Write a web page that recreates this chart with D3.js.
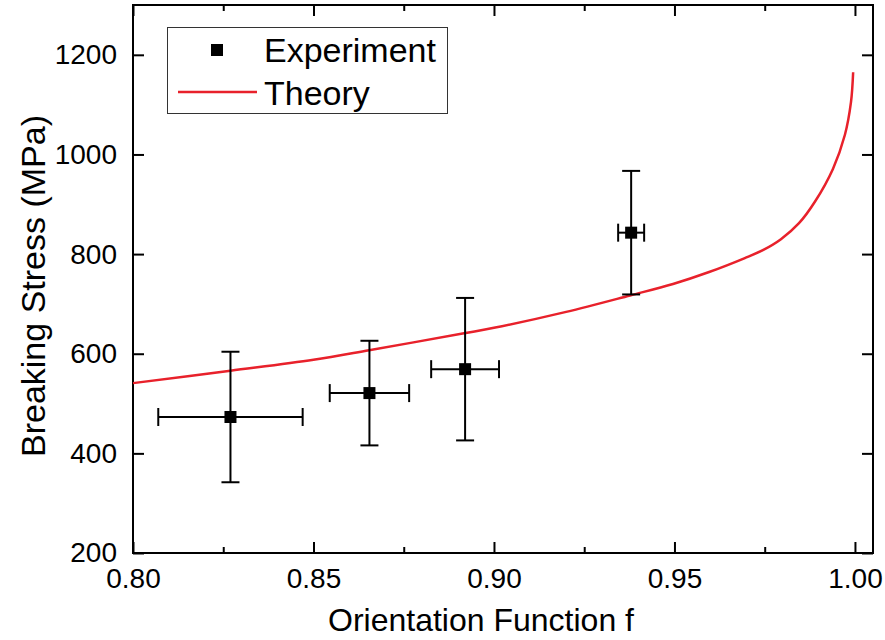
<!DOCTYPE html>
<html>
<head>
<meta charset="utf-8">
<script src="https://cdn.jsdelivr.net/npm/d3@7"></script>
<style>
  body { margin: 0; background: #fff; }
  svg { font-family: "Liberation Sans", Arial, sans-serif; }
  .axis path { display: none; }
  .axis line { stroke: #000; stroke-width: 2; }
  .axis text { font-size: 28px; fill: #000; }
</style>
</head>
<body>
<script>
// experiment points (orientation function f, breaking stress MPa)
var expF = [0.827, 0.8655, 0.892, 0.938];
var expStress = [473, 521, 569, 843];
var expFErr = [0.020, 0.011, 0.0094, 0.0036];
var expStressErr = [131, 105, 143, 124];

// theory curve
var theoryF = [0.80, 0.827, 0.85, 0.8654, 0.8917, 0.90, 0.92, 0.9377, 0.9496, 0.9596, 0.9695, 0.9745, 0.9795, 0.9845, 0.9889, 0.9939, 0.9972, 0.9989, 0.9995];
var theoryStress = [541, 566, 588, 607, 641, 652, 684, 717, 740, 764, 792, 808, 830, 862, 905, 971, 1039, 1105, 1165];

var xTicks = [0.80, 0.85, 0.90, 0.95, 1.00],
    xMinor = [0.825, 0.875, 0.925, 0.975],
    yTicks = [200, 400, 600, 800, 1000, 1200];

var width = 740,
    height = 548;
var margin = {left:133, top:5};

var svg = d3.select('body').append('svg').attr('width',885).attr('height',640);
var g = svg.append('g').attr('transform','translate('+margin.left+','+margin.top+')');

var x = d3.scaleLinear().domain([0.80,1.005]).range([0,width]);
var y = d3.scaleLinear().domain([200,1300]).range([height,0]);

// axes, ticks pointing inward on all four sides
g.append('g').attr('class','axis x').attr('transform','translate(0,'+height+')')
  .call(d3.axisBottom(x).tickValues(xTicks).tickFormat(d3.format('.2f')).tickSizeInner(-11).tickSizeOuter(0).tickPadding(15));
g.append('g').attr('class','axis x minor').attr('transform','translate(0,'+height+')')
  .call(d3.axisBottom(x).tickValues(xMinor).tickFormat('').tickSizeInner(-6).tickSizeOuter(0));
g.append('g').attr('class','axis x top')
  .call(d3.axisTop(x).tickValues(xTicks).tickFormat('').tickSizeInner(-11).tickSizeOuter(0));
g.append('g').attr('class','axis x top minor')
  .call(d3.axisTop(x).tickValues(xMinor).tickFormat('').tickSizeInner(-6).tickSizeOuter(0));
g.append('g').attr('class','axis y')
  .call(d3.axisLeft(y).tickValues(yTicks).tickFormat(d3.format('d')).tickSizeInner(-11).tickSizeOuter(0).tickPadding(16));
g.append('g').attr('class','axis y right').attr('transform','translate('+width+',0)')
  .call(d3.axisRight(y).tickValues(yTicks).tickFormat('').tickSizeInner(-11).tickSizeOuter(0));

g.append('rect').attr('width',width).attr('height',height)
  .attr('fill','none').attr('stroke','#000').attr('stroke-width',2);

// theory line
var theory = theoryF.map(function(f,i){ return {f:f, s:theoryStress[i]}; });
var line = d3.line()
  .x(function(d){ return x(d.f); })
  .y(function(d){ return y(d.s); })
  .curve(d3.curveCatmullRom.alpha(0.5));
g.append('path').attr('d',line(theory))
  .attr('fill','none').attr('stroke','#e8212b').attr('stroke-width',2.5);

// experiment with error bars
var exp = expF.map(function(f,i){ return {f:f, s:expStress[i], fe:expFErr[i], se:expStressErr[i]}; });
var cap = 9;
var eb = g.append('g').attr('stroke','#000').attr('stroke-width',2);
exp.forEach(function(d){
  var cx = x(d.f), cy = y(d.s);
  var y0 = y(d.s - d.se), y1 = y(d.s + d.se);
  var x0 = x(d.f - d.fe), x1 = x(d.f + d.fe);
  eb.append('line').attr('x1',cx).attr('x2',cx).attr('y1',y0).attr('y2',y1);
  eb.append('line').attr('x1',cx-cap).attr('x2',cx+cap).attr('y1',y0).attr('y2',y0);
  eb.append('line').attr('x1',cx-cap).attr('x2',cx+cap).attr('y1',y1).attr('y2',y1);
  eb.append('line').attr('x1',x0).attr('x2',x1).attr('y1',cy).attr('y2',cy);
  eb.append('line').attr('x1',x0).attr('x2',x0).attr('y1',cy-cap).attr('y2',cy+cap);
  eb.append('line').attr('x1',x1).attr('x2',x1).attr('y1',cy-cap).attr('y2',cy+cap);
});
g.selectAll('rect.pt').data(exp).enter().append('rect').attr('class','pt')
  .attr('x',function(d){ return x(d.f)-6; })
  .attr('y',function(d){ return y(d.s)-6; })
  .attr('width',12).attr('height',12).attr('fill','#000');

// axis titles
svg.append('text').attr('x',481).attr('y',631).attr('text-anchor','middle')
  .style('font-size','32px').text('Orientation Function f');
svg.append('text').attr('transform','translate(45,286) rotate(-90)').attr('text-anchor','middle')
  .style('font-size','34px').text('Breaking Stress (MPa)');

// legend
var lg = svg.append('g');
lg.append('rect').attr('x',167.5).attr('y',27.5).attr('width',280).attr('height',86)
  .attr('fill','#fff').attr('stroke','#333').attr('stroke-width',1);
lg.append('rect').attr('x',211).attr('y',44).attr('width',12).attr('height',12).attr('fill','#000');
lg.append('line').attr('x1',178).attr('x2',257).attr('y1',92).attr('y2',92)
  .attr('stroke','#e8212b').attr('stroke-width',2.5);
lg.append('text').attr('x',264).attr('y',62).style('font-size','34px').text('Experiment');
lg.append('text').attr('x',264).attr('y',105).style('font-size','34px').text('Theory');
</script>
</body>
</html>
